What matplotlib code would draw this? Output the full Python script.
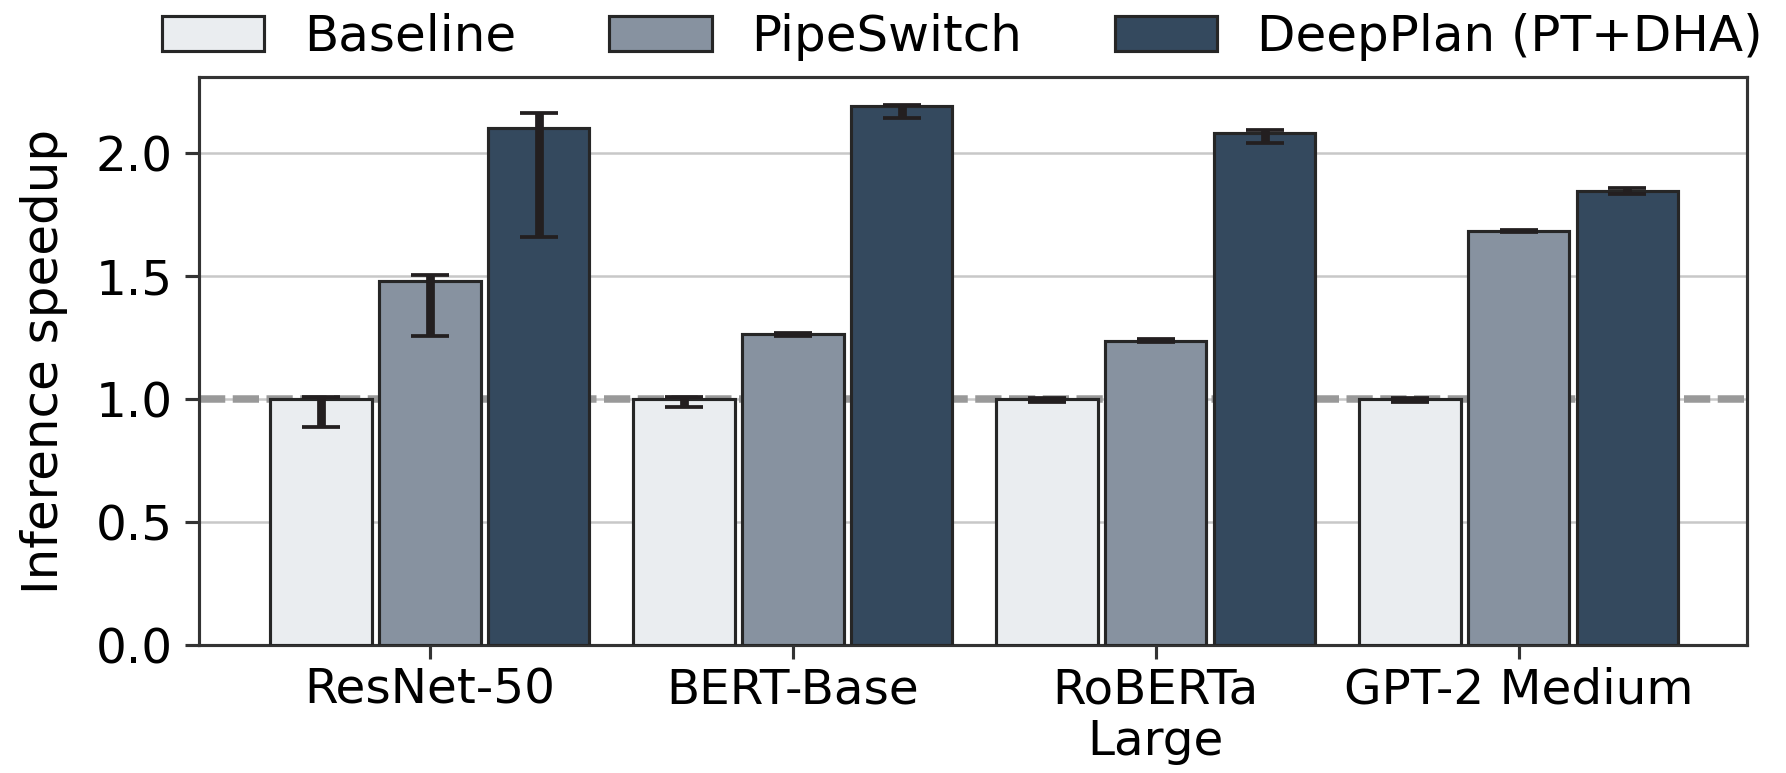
import numpy as np
import matplotlib
matplotlib.use("Agg")
import matplotlib.pyplot as plt

# ── data ──────────────────────────────────────────────────────────────────────
models = ["ResNet-50", "BERT-Base", "RoBERTa\nLarge", "GPT-2 Medium"]
systems = ["Baseline", "PipeSwitch", "DeepPlan (PT+DHA)"]

baseline     = [1.000, 1.000, 1.000, 1.000]
baseline_lo  = [0.885, 0.969, 0.988, 0.988]
baseline_hi  = [1.010, 1.008, 1.006, 1.006]

pipeswitch    = [1.482, 1.265, 1.238, 1.683]
pipeswitch_lo = [1.255, 1.258, 1.232, 1.678]
pipeswitch_hi = [1.505, 1.270, 1.244, 1.688]

deepplan    = [2.104, 2.190, 2.083, 1.846]
deepplan_lo = [1.661, 2.145, 2.041, 1.835]
deepplan_hi = [2.163, 2.196, 2.096, 1.858]

colors = ["#eaedf0", "#8792a0", "#34495e"]

# ── plot ──────────────────────────────────────────────────────────────────────
DPI = 225
FS = 15.5
plt.rcParams["font.family"] = ["DejaVu Sans"]
plt.rcParams["font.size"] = FS

fig = plt.figure(figsize=(1786 / DPI, 773 / DPI), dpi=DPI)
ax = fig.add_axes([0.1116, 0.1656, 0.9783 - 0.1116, 0.9004 - 0.1656])

x = np.arange(len(models))
width = 0.28
offsets = [-0.3, 0.0, 0.3]
series = [
    (baseline, baseline_lo, baseline_hi),
    (pipeswitch, pipeswitch_lo, pipeswitch_hi),
    (deepplan, deepplan_lo, deepplan_hi),
]

for (vals, lo, hi), off, col, name in zip(series, offsets, colors, systems):
    vals = np.array(vals)
    yerr = np.vstack([vals - np.array(lo), np.array(hi) - vals])
    ax.bar(x + off, vals, width, color=col, edgecolor="#262626",
           linewidth=1.0, label=name, zorder=3)
    ax.errorbar(x + off, vals, yerr=yerr, fmt="none", ecolor="#231f20",
                elinewidth=2.8, capsize=6, capthick=1.2, zorder=4)

ax.axhline(1.0, color="#999999", lw=2.4, ls=(0, (3.5, 1)), zorder=2)

ax.set_xlim(-0.635, 3.63)
ax.set_ylim(0, 2.31)
ax.set_yticks([0.0, 0.5, 1.0, 1.5, 2.0])
ax.set_yticklabels(["0.0", "0.5", "1.0", "1.5", "2.0"])
ax.set_xticks(x)
ax.set_xticklabels(models, linespacing=1.1)
ax.set_ylabel("Inference speedup", fontsize=16, labelpad=9)

ax.yaxis.grid(True, color="#c8c8c8", lw=0.8, zorder=0)
ax.set_axisbelow(True)
for sp in ax.spines.values():
    sp.set_color("#333333")
    sp.set_linewidth(1.0)
ax.tick_params(axis="both", length=4.5, width=1.0, color="#333333",
               labelsize=FS, pad=4)
ax.tick_params(axis="x", pad=2.5)

ax.legend(loc="center", bbox_to_anchor=(0.493, 1.071), ncol=3, frameon=False,
          fontsize=16, handlelength=2.05, handleheight=0.7,
          handletextpad=0.8, columnspacing=1.85, borderaxespad=0)

fig.savefig("out.png", dpi=DPI)
plt.close(fig)
